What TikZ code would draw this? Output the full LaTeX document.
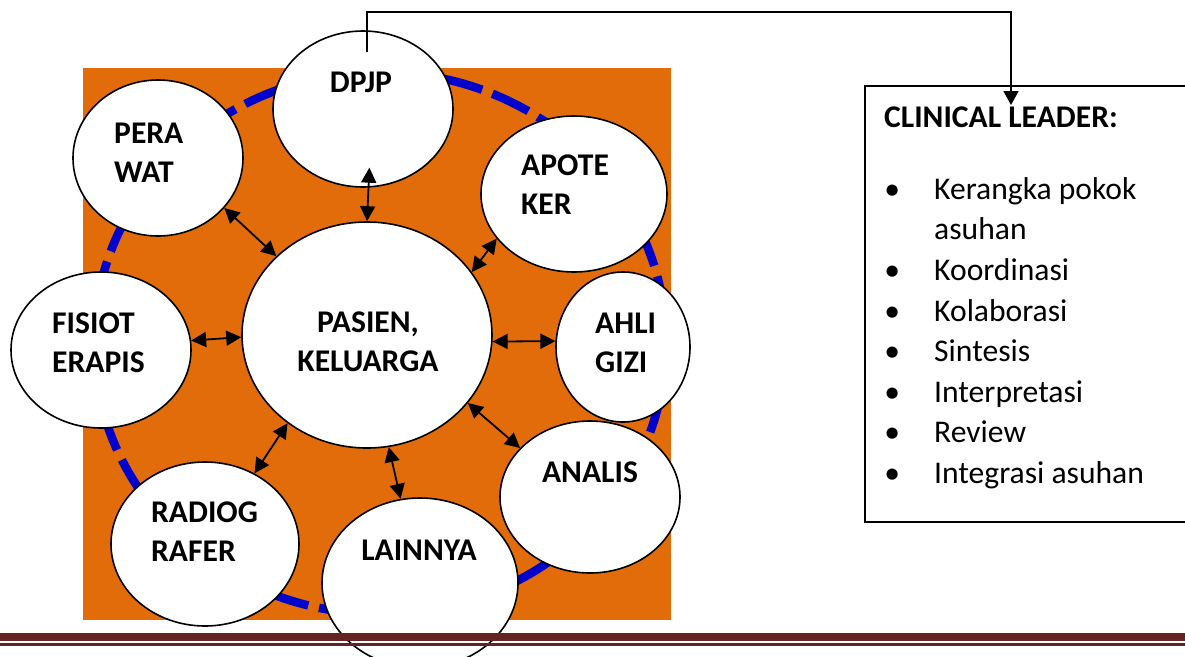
\documentclass[tikz,border=0pt]{standalone}
\usepackage{fontspec}
\setmainfont{Carlito}
\usetikzlibrary{shapes.geometric,arrows.meta,calc}
\definecolor{orangebg}{RGB}{227,108,10}
\definecolor{ringblue}{RGB}{0,0,204}
\definecolor{rulered}{RGB}{99,36,35}
\begin{document}
\begin{tikzpicture}[x=1pt,y=-1pt,
  bubble/.style={ellipse, draw=black, line width=1.6pt, fill=white, inner sep=0pt},
  lbl/.style={inner sep=0pt, font=\fontsize{31.6}{39}\selectfont\bfseries, align=left},
  lblc/.style={lbl, align=center},
  arr/.style={black, line width=1.8pt, {Triangle[length=15pt,width=15pt]}-{Triangle[length=15pt,width=15pt]}},
  conn/.style={black, line width=1.5pt, -{Triangle[length=14pt,width=15pt]}},
  bodytext/.style={inner sep=0pt, font=\fontsize{31.6}{40.6}\selectfont}
]
\useasboundingbox (0,0) rectangle (1185,656);
% background
\fill[orangebg] (83,68) rectangle (671,620);
\draw[ringblue, line width=8.5pt, dash pattern=on 40pt off 11pt] (380,343) ellipse [x radius=286, y radius=271];
% bubbles
\node[bubble, minimum width=180pt, minimum height=156pt] (dpjp) at (363,109) {};
\node[bubble, minimum width=170pt, minimum height=156pt] (pera) at (158,158) {};
\node[bubble, minimum width=186pt, minimum height=156pt] (apot) at (574,194) {};
\node[bubble, minimum width=180pt, minimum height=156pt] (fis) at (101,350) {};
\node[bubble, minimum width=250pt, minimum height=226pt] (pas) at (367,335) {};
\node[bubble, minimum width=134pt, minimum height=150pt] (ahli) at (623,347) {};
\node[bubble, minimum width=180pt, minimum height=152pt] (ana) at (590,497) {};
\node[bubble, minimum width=188pt, minimum height=164pt] (rad) at (205,544) {};
\node[bubble, minimum width=196pt, minimum height=170pt] (lain) at (420,583) {};
% labels
\node[lblc, anchor=north] (dpjp-t) at (361,68) {\rule{0pt}{24pt}DPJP};
\node[lbl, anchor=north west] (pera-t) at (114,119) {\rule{0pt}{24pt}PERA\\WAT};
\node[lbl, anchor=north west] (apot-t) at (521,151) {\rule{0pt}{24pt}APOTE\\KER};
\node[lbl, anchor=north west] (fis-t) at (52,309) {\rule{0pt}{24pt}FISIOT\\ERAPIS};
\node[lblc, anchor=north] (pas-t) at (368,308) {\rule{0pt}{24pt}PASIEN,\\KELUARGA};
\node[lbl, anchor=north west] (ahli-t) at (595,309) {\rule{0pt}{24pt}AHLI\\GIZI};
\node[lblc, anchor=north] (ana-t) at (590,458) {\rule{0pt}{24pt}ANALIS};
\node[lbl, anchor=north west] (rad-t) at (151,498) {\rule{0pt}{24pt}RADIOG\\RAFER};
\node[lblc, anchor=north] (lain-t) at (419,536) {\rule{0pt}{24pt}LAINNYA};
% arrows
\draw[arr, shorten <=-20pt] (dpjp.-86) -- (pas.90);
\draw[arr] (pera.-37.4) -- (pas.139.5);
\draw[arr] (apot.210) -- (pas.31.8);
\draw[arr] (fis.6.8) -- (pas.181.8);
\draw[arr] (ahli.175.7) -- (pas.-3.2);
\draw[arr] (ana.145.2) -- (pas.-34.4);
\draw[arr] (rad.55.2) -- (pas.228.6);
\draw[arr] (lain.103) -- (pas.-79.5);
% bottom rules
\fill[rulered] (0,633) rectangle (1185,641);
\fill[rulered] (0,643) rectangle (1185,645.5);
% clinical leader box
\node[draw=black, line width=1.5pt, fill=white, inner sep=0pt, minimum width=332pt, minimum height=436pt, anchor=north west] (cl) at (864,85) {};
\node[bodytext, anchor=base west, font=\fontsize{31.6}{40.6}\selectfont\bfseries] (cl-h) at (884,127) {CLINICAL LEADER:};
\node[bodytext, anchor=north west, align=left] (cl-list) at (872,173) {\rule{0pt}{26pt}\makebox[40pt]{\textbullet}\makebox[22pt]{}Kerangka pokok\\
\makebox[62pt]{}asuhan\\
\makebox[40pt]{\textbullet}\makebox[22pt]{}Koordinasi\\
\makebox[40pt]{\textbullet}\makebox[22pt]{}Kolaborasi\\
\makebox[40pt]{\textbullet}\makebox[22pt]{}Sintesis\\
\makebox[40pt]{\textbullet}\makebox[22pt]{}Interpretasi\\
\makebox[40pt]{\textbullet}\makebox[22pt]{}Review\\
\makebox[40pt]{\textbullet}\makebox[22pt]{}Integrasi asuhan};
% connector
\coordinate (dpjpin) at ($(dpjp.north)+(4,22)$);
\coordinate (jog) at ($(dpjp.north)+(4,-18)$);
\coordinate (cltip) at ($(cl.north west)+(147,20)$);
\draw[conn] (dpjpin) -- (jog) -| (cltip);
\end{tikzpicture}
\end{document}
